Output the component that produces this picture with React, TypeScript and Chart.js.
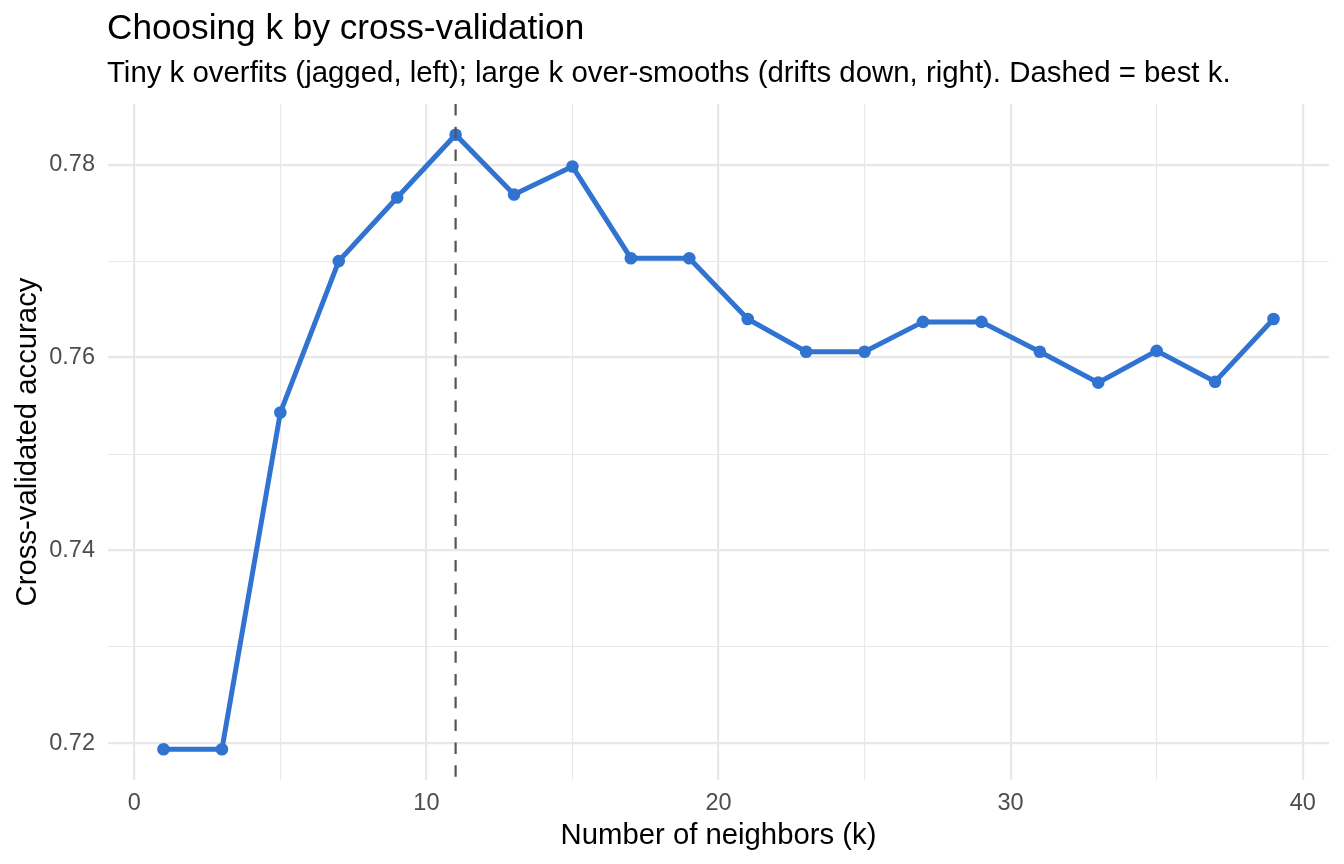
import React, { useEffect, useRef } from "react";
import { Chart, registerables } from "chart.js";

Chart.register(...registerables);

// Number of neighbours tried and the mean cross-validated accuracy for each
const K_VALUES = [1, 3, 5, 7, 9, 11, 13, 15, 17, 19, 21, 23, 25, 27, 29, 31, 33, 35, 37, 39];
const ACCURACY = [
  0.7194, 0.7194, 0.7543, 0.7700, 0.7766, 0.7831, 0.7769, 0.7798, 0.7703, 0.7703,
  0.7640, 0.7606, 0.7606, 0.7637, 0.7637, 0.7606, 0.7574, 0.7607, 0.7575, 0.7640,
];
const X_TICK_LABELS = [0, 10, 20, 30, 40];
const Y_TICK_LABELS = [0.72, 0.74, 0.76, 0.78];

const TITLE = "Choosing k by cross-validation";
const SUBTITLE =
  "Tiny k overfits (jagged, left); large k over-smooths (drifts down, right). Dashed = best k.";
const X_TITLE = "Number of neighbors (k)";
const Y_TITLE = "Cross-validated accuracy";

const FONT = "'Liberation Sans', Arial, Helvetica, sans-serif";
const LINE_COLOR = "#3173D0";
const GRID_COLOR = "#E8E8E8";
const TICK_COLOR = "#4D4D4D";

// best k = the k with the highest accuracy
const BEST_K = K_VALUES[ACCURACY.indexOf(Math.max(...ACCURACY))];

// ggplot-style 5% expansion around the data range
function expanded(values: number[]) {
  const lo = Math.min(...values);
  const hi = Math.max(...values);
  const pad = (hi - lo) * 0.05;
  return [lo - pad, hi + pad];
}

const titlePlugin = {
  id: "panelTitles",
  afterDraw(chart: any) {
    const { ctx, chartArea } = chart;
    ctx.save();
    ctx.fillStyle = "#000000";
    ctx.textAlign = "left";
    ctx.textBaseline = "alphabetic";
    ctx.font = `35.2px ${FONT}`;
    ctx.fillText(TITLE, chartArea.left - 1, 39);
    ctx.font = `29.4px ${FONT}`;
    ctx.fillText(SUBTITLE, chartArea.left - 1, 82);
    ctx.restore();
  },
};

const bestKLine = {
  id: "bestKLine",
  afterDatasetsDraw(chart: any) {
    const { ctx, chartArea, scales } = chart;
    const x = scales.x.getPixelForValue(BEST_K);
    ctx.save();
    ctx.strokeStyle = "#555555";
    ctx.lineWidth = 2.2;
    ctx.setLineDash([11.5, 11.3]);
    ctx.beginPath();
    ctx.moveTo(x, chartArea.top);
    ctx.lineTo(x, chartArea.bottom);
    ctx.stroke();
    ctx.restore();
  },
};

export default function App() {
  const canvasRef = useRef<HTMLCanvasElement | null>(null);

  useEffect(() => {
    const canvas = canvasRef.current;
    if (!canvas) return;
    const [xMin, xMax] = expanded(K_VALUES);
    const [yMin, yMax] = expanded(ACCURACY);

    const chart = new Chart(canvas, {
      type: "line",
      data: {
        datasets: [
          {
            data: K_VALUES.map((k, i) => ({ x: k, y: ACCURACY[i] })),
            borderColor: LINE_COLOR,
            backgroundColor: LINE_COLOR,
            borderWidth: 5,
            pointRadius: 6.3,
            pointHoverRadius: 6.3,
            pointBorderWidth: 0,
            tension: 0,
            fill: false,
          },
        ],
      },
      options: {
        animation: false,
        responsive: false,
        events: [],
        layout: { padding: { top: 104, right: 15, bottom: 0, left: 0 } },
        plugins: {
          legend: { display: false },
          tooltip: { enabled: false },
          title: { display: false },
        },
        scales: {
          x: {
            type: "linear",
            min: xMin,
            max: xMax,
            border: { display: false },
            afterFit(scale: any) {
              scale.height = 84;
            },
            grid: {
              color: GRID_COLOR,
              drawTicks: false,
              lineWidth: (c: any) => (X_TICK_LABELS.includes(c.tick.value) ? 2.2 : 1.1),
            },
            ticks: {
              stepSize: 5,
              includeBounds: false,
              autoSkip: false,
              maxRotation: 0,
              padding: 9,
              color: TICK_COLOR,
              font: { family: FONT, size: 23.5 },
              callback: (v: any) => (X_TICK_LABELS.includes(v) ? String(v) : ""),
            },
            title: {
              display: true,
              text: X_TITLE,
              color: "#000000",
              font: { family: FONT, size: 29.3 },
              padding: { top: 0, bottom: 11 },
            },
          },
          y: {
            type: "linear",
            min: yMin,
            max: yMax,
            border: { display: false },
            afterFit(scale: any) {
              scale.width = 108;
            },
            grid: {
              color: GRID_COLOR,
              drawTicks: false,
              lineWidth: (c: any) =>
                Y_TICK_LABELS.some((t) => Math.abs(t - c.tick.value) < 1e-6) ? 2.2 : 1.1,
            },
            ticks: {
              stepSize: 0.01,
              includeBounds: false,
              autoSkip: false,
              padding: 13,
              color: TICK_COLOR,
              font: { family: FONT, size: 23.5 },
              callback: (v: any) => {
                const t = Y_TICK_LABELS.find((l) => Math.abs(l - v) < 1e-6);
                return t === undefined ? "" : t.toFixed(2);
              },
            },
            title: {
              display: true,
              text: Y_TITLE,
              color: "#000000",
              font: { family: FONT, size: 29.3 },
              padding: { top: 10, bottom: 0 },
            },
          },
        },
      },
      plugins: [titlePlugin, bestKLine],
    });

    return () => chart.destroy();
  }, []);

  return (
    <div
      style={{
        position: "fixed",
        left: 0,
        top: 0,
        width: 1344,
        height: 864,
        background: "#ffffff",
      }}
    >
      <canvas ref={canvasRef} width={1344} height={864} style={{ display: "block" }} />
    </div>
  );
}
